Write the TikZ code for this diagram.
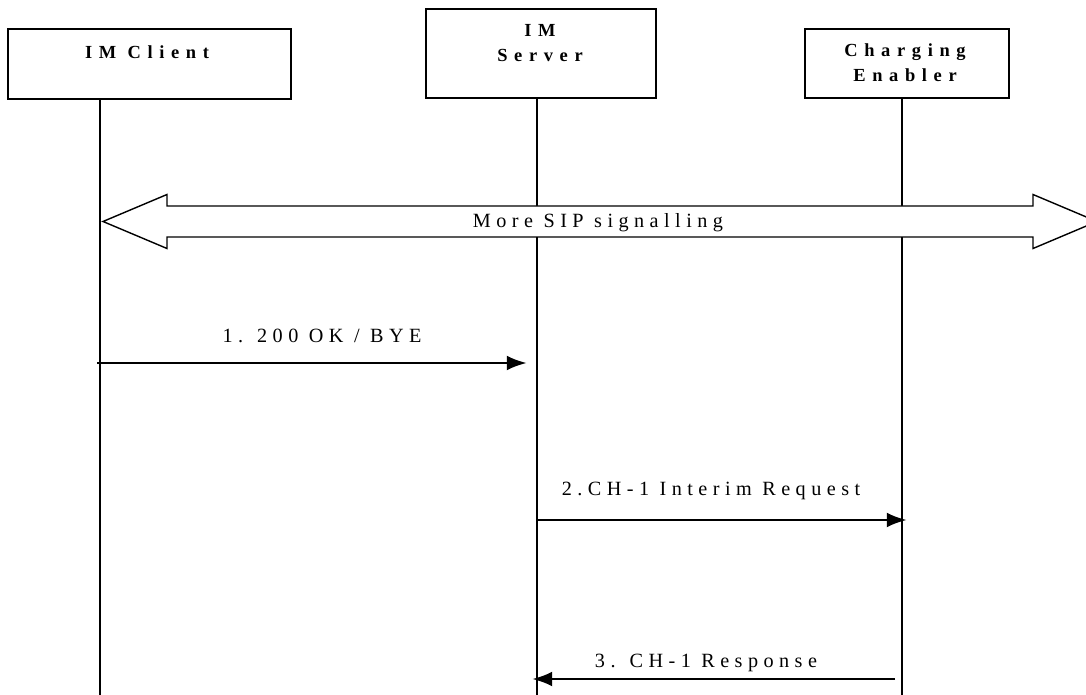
\documentclass[tikz,border=0pt]{standalone}
\usepackage{fontspec}
\setmainfont{Liberation Serif}
\newfontfamily\lblfont[LetterSpace=27]{Liberation Serif}
\newfontfamily\boxfont[LetterSpace=36]{Liberation Serif}
\usetikzlibrary{arrows.meta}

\begin{document}
\begin{tikzpicture}[x=0.02cm,y=-0.02cm,
  box/.style={draw,line width=1.1pt,inner sep=0pt},
  title/.style={inner sep=0pt,anchor=north,align=center,font=\boxfont\bfseries\fontsize{10.5}{14.2}\selectfont},
  lbl/.style={inner sep=0pt,anchor=base,font=\lblfont\fontsize{11.5}{13}\selectfont},
  life/.style={line width=1.2pt},
  msg/.style={line width=1.7pt,-{Latex[length=11.5pt,width=8.5pt]}}]
\useasboundingbox (0,0) rectangle (1086,695);

% the three entities
\node [box,minimum width=5.66cm,minimum height=1.40cm] (c) at (149.5,64) {};
\node [box,minimum width=4.60cm,minimum height=1.78cm] (s) at (541,53.5) {};
\node [box,minimum width=4.08cm,minimum height=1.38cm] (e) at (907,63.5) {};
\node [title] (ct) at (147,45) {IM Client};
\node [title] (st) at (540,24) {IM\\Server};
\node [title] (et) at (905,43) {Charging\\Enabler};

% lifelines
\coordinate (xc) at (100,695);
\coordinate (xs) at (537,695);
\coordinate (xe) at (902,695);
\draw [life] (c.south -| xc) -- (xc);
\draw [life] (s.south -| xs) -- (xs);
\draw [life] (e.south -| xe) -- (xe);

% more signalling
\draw [line width=0.8pt,fill=white] (103,221.5) -- (167,194.5) -- (167,206) -- (1033,206)
  -- (1033,194.5) -- (1097,221.5) -- (1033,248.5) -- (1033,237) -- (167,237) -- (167,248.5) -- cycle;
\node [lbl] (sig) at (598,228) {More SIP signalling};

% messages
\coordinate (m1a) at (97,363);
\coordinate (m1b) at (527,363);
\coordinate (m2a) at (537,520);
\coordinate (m2b) at (907,520);
\coordinate (m3a) at (895,679);
\coordinate (m3b) at (532,679);
\draw [msg] (m1a) -- (m1b);
\draw [msg] (m2a) -- (m2b);
\draw [msg] (m3a) -- (m3b);
\node [lbl] (t1) at (322,343) {1. 200 OK / BYE};
\node [lbl] (t2) at (711,496) {2.CH-1 Interim Request};
\node [lbl] (t3) at (706,668) {3. CH-1 Response};

\end{tikzpicture}
\end{document}
